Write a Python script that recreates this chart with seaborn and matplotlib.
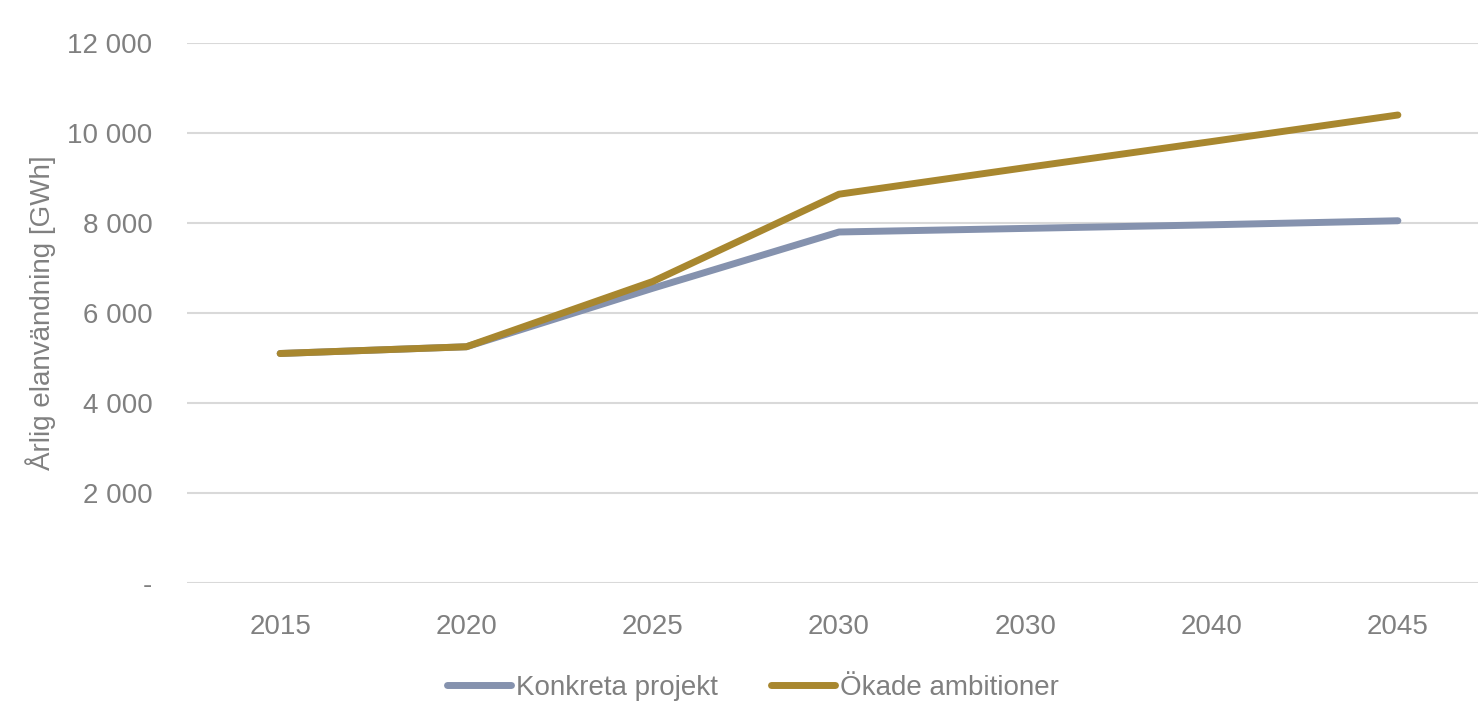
import matplotlib
matplotlib.use("Agg")
import matplotlib.pyplot as plt
import matplotlib.ticker as mticker
import seaborn as sns
import pandas as pd

# Data (the duplicated "2030" label is in the original)
years = ["2015", "2020", "2025", "2030", "2030", "2040", "2045"]
konkreta = [5100, 5250, 6550, 7800, 7880, 7960, 8050]
okade = [5100, 5250, 6700, 8640, 9230, 9810, 10400]
series_names = ["Konkreta projekt", "Ökade ambitioner"]
colors = ["#8592AE", "#A8872F"]

sns.set_style("white")
plt.rcParams["font.family"] = ["Liberation Sans", "DejaVu Sans"]

df = pd.DataFrame({
    "pos": list(range(len(years))) * 2,
    "value": konkreta + okade,
    "serie": [series_names[0]] * len(years) + [series_names[1]] * len(years),
})

fig = plt.figure(figsize=(14.78, 7.04), dpi=100)
ax = fig.add_axes([187 / 1478, 1 - 583 / 704, (1478 - 187) / 1478, 540 / 704])

sns.lineplot(data=df, x="pos", y="value", hue="serie", palette=colors,
             linewidth=5, solid_capstyle="round", ax=ax, legend=False)

ax.set_xlim(-0.5, 6.43)
ax.set_ylim(0, 12000)
ax.set_xticks(range(len(years)))
ax.set_xticklabels(years)
ax.set_yticks(range(0, 12001, 2000))


def fmt(v, _):
    if v == 0:
        return "-"
    return f"{int(v):,}".replace(",", " ")


ax.yaxis.set_major_formatter(mticker.FuncFormatter(fmt))
ax.grid(axis="y", color="#D9D9D9", linewidth=1.5)
ax.set_axisbelow(True)
for s in ax.spines.values():
    s.set_visible(False)

gray = "#808080"
ax.tick_params(axis="both", length=0, labelsize=20, colors=gray)
ax.tick_params(axis="y", pad=25)
ax.tick_params(axis="x", pad=22)
ax.set_xlabel("")
ax.set_ylabel("Årlig elanvändning [GWh]", fontsize=20, color=gray, labelpad=8)

handles = [plt.Line2D([], [], color=c, linewidth=5, solid_capstyle="round") for c in colors]
leg = fig.legend(handles, series_names, loc="center", bbox_to_anchor=(753 / 1478, 1 - 688 / 704),
                 ncol=2, frameon=False, fontsize=20, handlelength=2.3,
                 handletextpad=0.18, columnspacing=1.9)
for t in leg.get_texts():
    t.set_color(gray)

fig.savefig("out.png", dpi=100)
